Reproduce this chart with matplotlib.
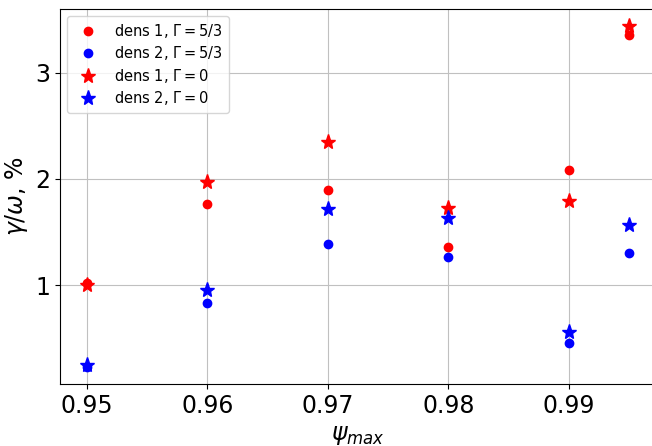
import matplotlib
matplotlib.use("Agg")
import matplotlib.pyplot as plt

psi = [0.95, 0.96, 0.97, 0.98, 0.99, 0.995]
dens1_g53 = [1.02, 1.76, 1.90, 1.36, 2.08, 3.36]
dens2_g53 = [0.23, 0.83, 1.39, 1.27, 0.46, 1.30]
dens1_g0 = [1.00, 1.97, 2.35, 1.73, 1.79, 3.44]
dens2_g0 = [0.25, 0.95, 1.72, 1.63, 0.56, 1.57]

fig = plt.figure(figsize=(6.52, 4.46), dpi=100)
ax = fig.add_axes([60/652, 62/446, 596/652, 375/446])

ax.plot(psi, dens1_g53, color='red', marker='o', ms=6, ls='none', label=r'dens 1, $\Gamma = 5/3$', zorder=3)
ax.plot(psi, dens2_g53, color='blue', marker='o', ms=6, ls='none', label=r'dens 2, $\Gamma = 5/3$', zorder=3)
ax.plot(psi, dens1_g0, color='red', marker='*', ms=11, ls='none', label=r'dens 1, $\Gamma = 0$', zorder=3)
ax.plot(psi, dens2_g0, color='blue', marker='*', ms=11, ls='none', label=r'dens 2, $\Gamma = 0$', zorder=3)

ax.set_xticks([0.95, 0.96, 0.97, 0.98, 0.99])
ax.set_yticks([1, 2, 3])
ax.tick_params(labelsize=17)
ax.grid(True, zorder=0, color='#c0c0c0')
ax.set_axisbelow(True)
ax.set_xlabel(r'$\psi_{max}$', fontsize=17)
ax.set_ylabel(r'$\gamma/\omega$, %', fontsize=17)
ax.legend(loc='upper left', fontsize=10.5, labelspacing=0.3)

fig.savefig('out.png', dpi=100)
